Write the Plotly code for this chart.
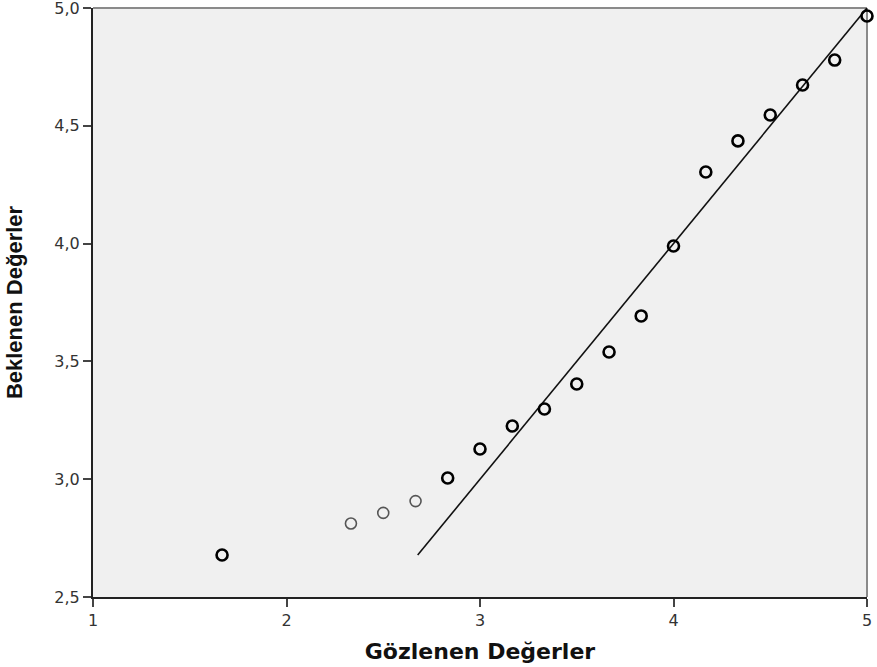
import plotly.graph_objects as go

# Observed vs expected values (normal Q-Q style plot)
observed = [1.667, 2.333, 2.5, 2.667, 2.833, 3.0, 3.167, 3.333, 3.5, 3.667,
            3.833, 4.0, 4.167, 4.333, 4.5, 4.667, 4.833, 5.0]
expected = [2.678, 2.812, 2.857, 2.907, 3.005, 3.128, 3.226, 3.298, 3.404, 3.540,
            3.693, 3.990, 4.304, 4.436, 4.546, 4.673, 4.779, 4.966]
# cases drawn lighter (single observations)
light_idx = [1, 2, 3]

ref_line_x = [2.678, 5.0]
ref_line_y = [2.678, 5.0]

x_ticks = [1, 2, 3, 4, 5]
y_ticks = [2.5, 3.0, 3.5, 4.0, 4.5, 5.0]

dark_x = [v for i, v in enumerate(observed) if i not in light_idx]
dark_y = [v for i, v in enumerate(expected) if i not in light_idx]
light_x = [observed[i] for i in light_idx]
light_y = [expected[i] for i in light_idx]

fig = go.Figure()
fig.add_trace(go.Scatter(x=ref_line_x, y=ref_line_y, mode="lines",
                         line=dict(color="#111111", width=1.6),
                         hoverinfo="skip", showlegend=False, cliponaxis=False))
fig.add_trace(go.Scatter(x=light_x, y=light_y, mode="markers",
                         marker=dict(symbol="circle-open", size=11, color="#555555",
                                     line=dict(color="#555555", width=1.6)),
                         showlegend=False))
fig.add_trace(go.Scatter(x=dark_x, y=dark_y, mode="markers",
                         marker=dict(symbol="circle-open", size=11, color="#000000",
                                     line=dict(color="#000000", width=2.6)),
                         showlegend=False, cliponaxis=False))

# gray frame on top and right
fig.add_shape(type="line", xref="paper", yref="paper", x0=0, x1=1, y0=1, y1=1,
              line=dict(color="#8a8a8a", width=2), layer="below")
fig.add_shape(type="line", xref="paper", yref="paper", x0=1, x1=1, y0=0, y1=1,
              line=dict(color="#8a8a8a", width=2), layer="below")

tick_font = dict(family="DejaVu Sans, sans-serif", size=16, color="#333333")

fig.update_layout(
    width=877, height=667,
    margin=dict(l=93, r=10, t=8, b=70, autoexpand=False),
    paper_bgcolor="white",
    plot_bgcolor="#f0f0f0",
    separators=",.",
    font=dict(family="Liberation Sans, Arial, sans-serif", color="#333333", size=13),
    xaxis=dict(
        range=[1, 5], tickvals=x_ticks, tickformat="d",
        showgrid=False, zeroline=False, automargin=False,
        showline=True, linecolor="#222222", linewidth=2,
        ticks="outside", ticklen=8, tickwidth=2, tickcolor="#444444",
        tickfont=tick_font, ticklabeloverflow="allow",
        title=dict(text="<b>Gözlenen Değerler</b>", standoff=14,
                   font=dict(family="DejaVu Sans, sans-serif", size=22, color="#111111")),
    ),
    yaxis=dict(
        range=[2.5, 5.0], tickvals=y_ticks, tickformat=".1f",
        showgrid=False, zeroline=False, automargin=False,
        showline=True, linecolor="#222222", linewidth=2,
        ticks="outside", ticklen=8, tickwidth=2, tickcolor="#444444",
        tickfont=tick_font, ticklabeloverflow="allow",
        title=dict(text="<b>Beklenen Değerler</b>", standoff=26,
                   font=dict(family="Liberation Sans, Arial, sans-serif", size=22,
                             color="#111111")),
    ),
)

fig.write_html("out.html")
